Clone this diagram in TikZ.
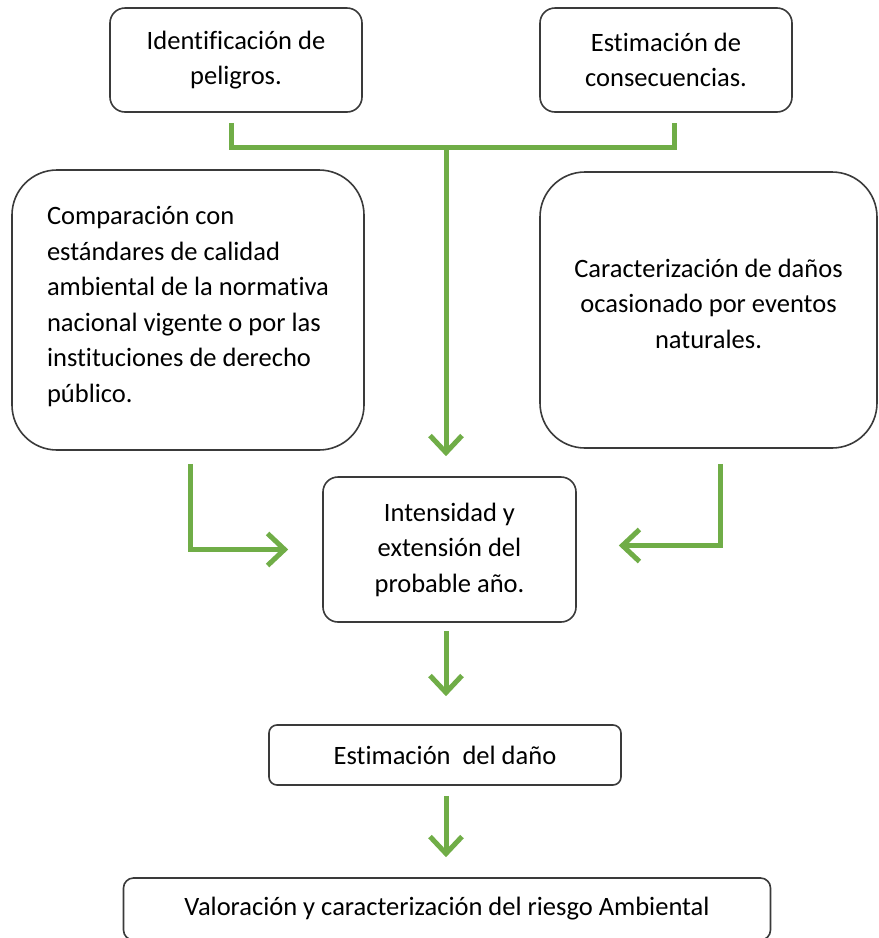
\documentclass[tikz,border=0pt]{standalone}
\usepackage{fontspec}
\setmainfont{Carlito}[Ligatures={NoCommon}]
\usetikzlibrary{arrows.meta}
\definecolor{flowgreen}{HTML}{70AD47}
\definecolor{boxline}{HTML}{3A3A3A}
\begin{document}
\begin{tikzpicture}[x=1pt,y=-1pt,
  box/.style={draw=boxline,line width=1.6pt,fill=white,align=center,inner sep=0pt,
    font=\fontsize{26.5}{35.5}\selectfont},
  conn/.style={draw=flowgreen,line width=5pt},
  arr/.style={conn,-{Straight Barb[length=17pt,width=32pt]}}]
\useasboundingbox (0,0) rectangle (879,938);
\node[box,rounded corners=15pt,minimum width=252pt,minimum height=104pt] (A) at (236,60)
  {Identificación de\\peligros.};
\node[box,rounded corners=15pt,minimum width=252pt,minimum height=104pt] (B) at (666,60)
  {Estimación de\\consecuencias.};
\node[box,rounded corners=45pt,minimum width=352pt,minimum height=280pt,align=left] (C) at (188,310)
  {Comparación con\\estándares de calidad\\ambiental de la normativa\\nacional vigente o por las\\instituciones de derecho\\público.\\[-24pt]};
\node[box,rounded corners=45pt,minimum width=337pt,minimum height=276pt] (D) at (708.5,310)
  {Caracterización de daños\\ocasionado por eventos\\naturales.\\[-23pt]};
\node[box,rounded corners=15pt,minimum width=253pt,minimum height=145pt] (E) at (449.5,549.5)
  {Intensidad y\\extensión del\\probable año.};
\node[box,rounded corners=8pt,minimum width=352pt,minimum height=60pt] (F) at (445,755)
  {Estimación~~del daño};
\node[box,rounded corners=10pt,minimum width=647pt,minimum height=62pt] (G) at (447,909)
  {Valoración y caracterización del riesgo Ambiental};
\coordinate (j) at (446,147);
\draw[conn] ([xshift=-5pt,yshift=-10pt]A.south) |- (j) -| ([xshift=8pt,yshift=-10pt]B.south);
\draw[arr] (j) -- ([xshift=-3.5pt,yshift=20pt]E.north);
\draw[arr] ([xshift=2pt,yshift=-13pt]C.south) |- ([xshift=-34pt]E.west);
\draw[arr] ([xshift=11.5pt,yshift=-15pt]D.south) |- ([xshift=42pt,yshift=4pt]E.east);
\draw[arr] ([xshift=-3.5pt,yshift=-8pt]E.south) -- ([xshift=1pt,yshift=28pt]F.north);
\draw[arr] ([xshift=1pt,yshift=-10pt]F.south) -- ([xshift=-1pt,yshift=20pt]G.north);
\end{tikzpicture}
\end{document}
